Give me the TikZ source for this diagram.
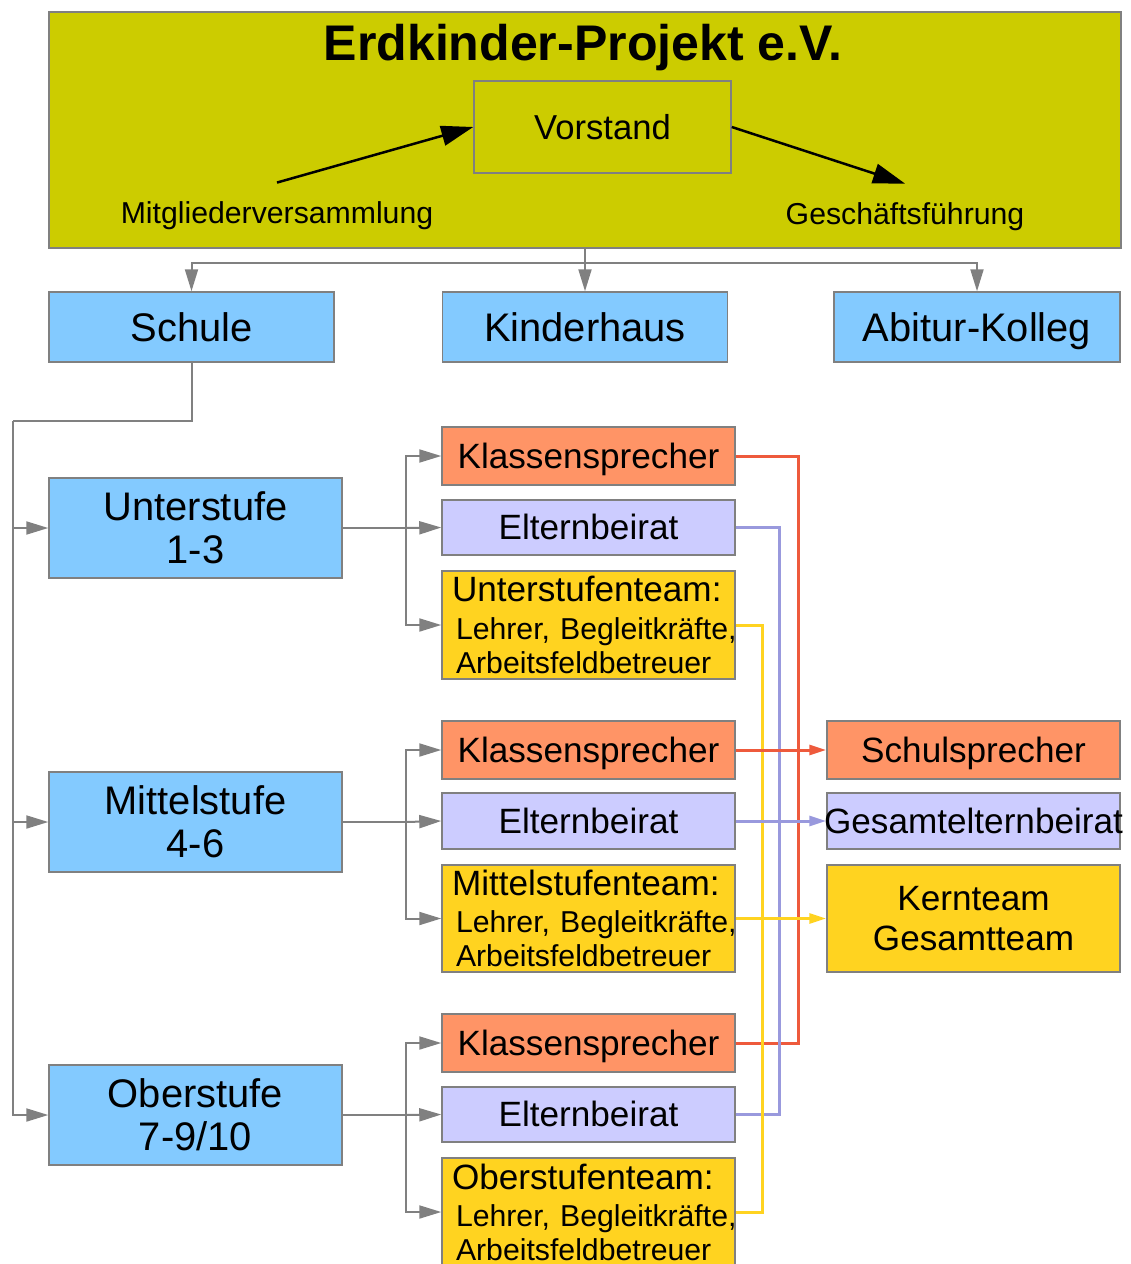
\documentclass[tikz,border=0pt]{standalone}
\usepackage{fontspec}
\setmainfont{Liberation Sans}
\usetikzlibrary{arrows.meta}
\definecolor{ekOlive}{HTML}{CCCC00}
\definecolor{ekBlue}{HTML}{83CAFF}
\definecolor{ekSalmon}{HTML}{FF9466}
\definecolor{ekLav}{HTML}{CCCCFF}
\definecolor{ekGold}{HTML}{FFD320}
\definecolor{ekGray}{HTML}{808080}
\definecolor{ekRed}{HTML}{EE5A3C}
\definecolor{ekPurple}{HTML}{9999DD}
\definecolor{ekYellow}{HTML}{FFD320}
\tikzset{
  sz/.style 2 args={minimum width=#1*0.02cm, minimum height=#2*0.02cm},
  box/.style={draw=ekGray, line width=0.03cm, rectangle, inner sep=0pt, align=center, text=black},
  onebig/.style={text height=20.5pt, text depth=4.5pt},
  onemid/.style={text height=18.2pt, text depth=4pt},
  bigfont/.style={font=\fontsize{22.7}{24.5}\selectfont},
  midfont/.style={font=\fontsize{20}{22.8}\selectfont},
  bluebox/.style={box, fill=ekBlue, bigfont},
  ksbox/.style={box, fill=ekSalmon, midfont, onemid},
  ebbox/.style={box, fill=ekLav, midfont, onemid},
  teambox/.style={box, fill=ekGold, align=left, text width=273*0.02cm, inner xsep=10*0.02cm,
    font=\fontsize{17.2}{19.4}\selectfont},
  garrow/.style={draw=ekGray, line width=0.04cm, -{Triangle[length=0.44cm,width=0.26cm]}},
  gline/.style={draw=ekGray, line width=0.04cm},
  barrow/.style={draw=black, line width=0.05cm, -{Triangle[length=0.64cm,width=0.4cm]}},
  redline/.style={draw=ekRed, line width=0.06cm},
  purpleline/.style={draw=ekPurple, line width=0.06cm},
  yellowline/.style={draw=ekYellow, line width=0.06cm},
  ctip/.style={-{Triangle[length=0.34cm,width=0.2cm]}},
  lbl/.style={inner xsep=0pt, inner ysep=0.38cm, font=\fontsize{17.2}{19}\selectfont},
}
\newcommand{\teamtext}[1]{{\fontsize{20}{19.4}\selectfont #1}\\[1.7pt]
  \hspace*{0.08cm}\mbox{Lehrer, Begleitkräfte,}\\
  \hspace*{0.08cm}Arbeitsfeldbetreuer}
\begin{document}
\begin{tikzpicture}[x=0.02cm, y=-0.02cm]
\useasboundingbox (0,0) rectangle (1131,1264);
\fill[white] (0,0) rectangle (1131,1264);

% top block
\node[box, fill=ekOlive, sz={1072}{236}] (top) at (585,130) {};
\node[font=\bfseries\fontsize{28.5}{30}\selectfont, inner sep=0pt] (title) at (583,48) {Erdkinder-Projekt e.V.};
\node[box, fill=ekOlive, sz={257}{92}, font=\fontsize{19.7}{22}\selectfont, onemid] (vorstand) at (602.5,127) {Vorstand};
\node[lbl] (mitglied) at (277,216) {Mitgliederversammlung};
\node[lbl] (gesch) at (905,217) {Geschäftsführung};
\draw[barrow] (mitglied.north) -- (vorstand.west);
\draw[barrow] (vorstand.east) -- (gesch.north);

% second row
\node[bluebox, onebig, sz={285}{70}] (schule) at (191.5,327) {Schule};
\node[bluebox, onebig, sz={285}{70}] (kinder) at (585,327) {Kinderhaus};
\node[bluebox, onebig, sz={286}{70}] (abitur) at (977,327) {Abitur-Kolleg};
\coordinate (j1) at (585,263);
\draw[gline] (top.south) -- (j1);
\draw[garrow] (j1) -| (schule.north);
\draw[garrow] (j1) -- (kinder.north);
\draw[garrow] (j1) -| (abitur.north);

% Stufen
\node[bluebox, sz={293}{100}] (unter) at (195.5,528) {Unterstufe\\1-3};
\node[bluebox, sz={293}{100}] (mittel) at (195.5,822) {Mittelstufe\\4-6};
\node[bluebox, sz={293}{100}] (ober) at (195.5,1115) {Oberstufe\\7-9/10};
\coordinate (s1) at (13,421);
\draw[gline] (schule.south) |- (s1);
\draw[garrow] (s1) |- (unter.west);
\draw[garrow] (s1) |- (mittel.west);
\draw[garrow] (s1) |- (ober.west);

% Unterstufe group
\node[ksbox, sz={293}{58}] (ks1) at (588.5,456) {Klassensprecher};
\node[ebbox, sz={293}{55}] (eb1) at (588.5,527.5) {Elternbeirat};
\node[teambox, sz={293}{108}] (tm1) at (588.5,625) {\teamtext{Unterstufenteam:}};
% Mittelstufe group
\node[ksbox, sz={293}{58}] (ks2) at (588.5,750) {Klassensprecher};
\node[ebbox, sz={293}{56}] (eb2) at (588.5,821) {Elternbeirat};
\node[teambox, sz={293}{107}] (tm2) at (588.5,918.5) {\teamtext{Mittelstufenteam:}};
% Oberstufe group
\node[ksbox, sz={293}{58}] (ks3) at (588.5,1043) {Klassensprecher};
\node[ebbox, sz={293}{55}] (eb3) at (588.5,1114.5) {Elternbeirat};
\node[teambox, sz={293}{108}] (tm3) at (588.5,1212) {\teamtext{Oberstufenteam:}};

\coordinate (u1) at (406,528);
\draw[gline] (unter.east) -- (u1);
\draw[garrow] (u1) |- (ks1.west);
\draw[garrow] (u1) -- (eb1.west);
\draw[garrow] (u1) |- (tm1.west);
\coordinate (m1) at (406,822);
\draw[gline] (mittel.east) -- (m1);
\draw[garrow] (m1) |- (ks2.west);
\draw[garrow] (m1) -- (eb2.west);
\draw[garrow] (m1) |- (tm2.west);
\coordinate (o1) at (406,1115);
\draw[gline] (ober.east) -- (o1);
\draw[garrow] (o1) |- (ks3.west);
\draw[garrow] (o1) -- (eb3.west);
\draw[garrow] (o1) |- (tm3.west);

% right column
\node[ksbox, sz={293}{58}] (schul) at (973.5,750) {Schulsprecher};
\node[ebbox, sz={293}{56}] (gesel) at (973.5,821) {\makebox[0pt]{Gesamtelternbeirat}};
\node[box, fill=ekGold, midfont, sz={293}{107}] (kern) at (973.5,918.5) {Kernteam\\Gesamtteam};

% coloured collectors
\draw[redline] (ks1.east) -- ++(63,0) |- (ks3.east);
\draw[purpleline] (eb1.east) -- ++(44,0) |- (eb3.east);
\draw[yellowline] (tm1.east) -- ++(27,0) |- (tm3.east);
\draw[redline, ctip] (ks2.east) -- (schul.west);
\draw[purpleline, ctip] (eb2.east) -- (gesel.west);
\draw[yellowline, ctip] (tm2.east) -- (kern.west);
\end{tikzpicture}
\end{document}
